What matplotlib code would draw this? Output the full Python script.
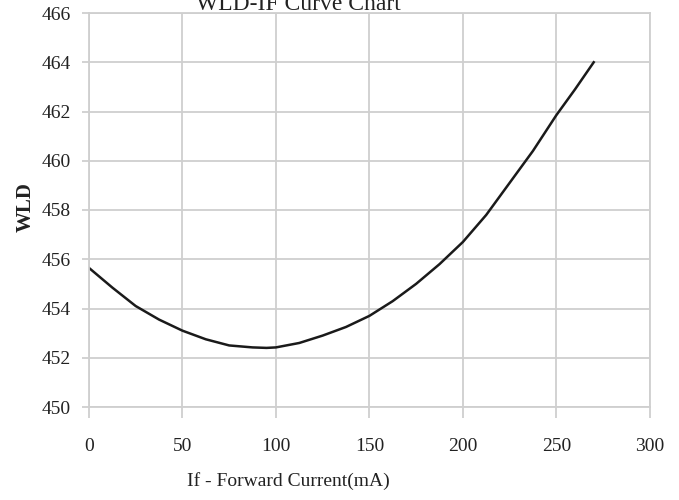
import matplotlib.pyplot as plt

# WLD vs forward current
current_ma = [0, 12.5, 25, 37.5, 50, 62.5, 75, 87.5, 95, 100, 112.5, 125, 137.5, 150,
              162.5, 175, 187.5, 200, 212.5, 225, 237.5, 250, 260, 270]
wld_nm = [455.65, 454.85, 454.1, 453.55, 453.1, 452.75, 452.5, 452.42, 452.4, 452.42,
          452.6, 452.9, 453.25, 453.7, 454.3, 455.0, 455.8, 456.7, 457.8, 459.1,
          460.4, 461.85, 462.9, 464.0]

x_ticks = [0, 50, 100, 150, 200, 250, 300]
y_ticks = [450, 452, 454, 456, 458, 460, 462, 464, 466]

plt.rcParams['font.family'] = ['Liberation Serif', 'DejaVu Serif']
grid_color = "#cfcfcf"

fig = plt.figure(figsize=(6.79, 5.0), dpi=100)
ax = fig.add_axes([0.131, 0.186, 0.826, 0.788])

ax.plot(current_ma, wld_nm, color="#1a1a1a", linewidth=1.8)

ax.set_xlim(0, 300)
ax.set_ylim(450, 466)
ax.set_xticks(x_ticks)
ax.set_yticks(y_ticks)
ax.tick_params(axis="both", colors=grid_color, labelcolor="#222222",
               labelsize=14, width=1.3)
ax.tick_params(axis="y", length=5, pad=8)
ax.tick_params(axis="x", length=8, pad=14)
ax.grid(True, color=grid_color, linewidth=1.3)
for s in ax.spines.values():
    s.set_color(grid_color)
    s.set_linewidth(1.3)

ax.set_xlabel("If - Forward Current(mA)", fontsize=14, color="#222222")
ax.xaxis.set_label_coords(0.355, -0.165)
ax.set_ylabel("WLD", fontsize=15, fontweight="bold", color="#222222")
ax.yaxis.set_label_coords(-0.095, 0.508)

fig.text(0.44, 0.99, "WLD-IF Curve Chart", ha="center", va="center",
         fontsize=17, color="#222222")

fig.savefig("out.png", dpi=100)
plt.close(fig)
